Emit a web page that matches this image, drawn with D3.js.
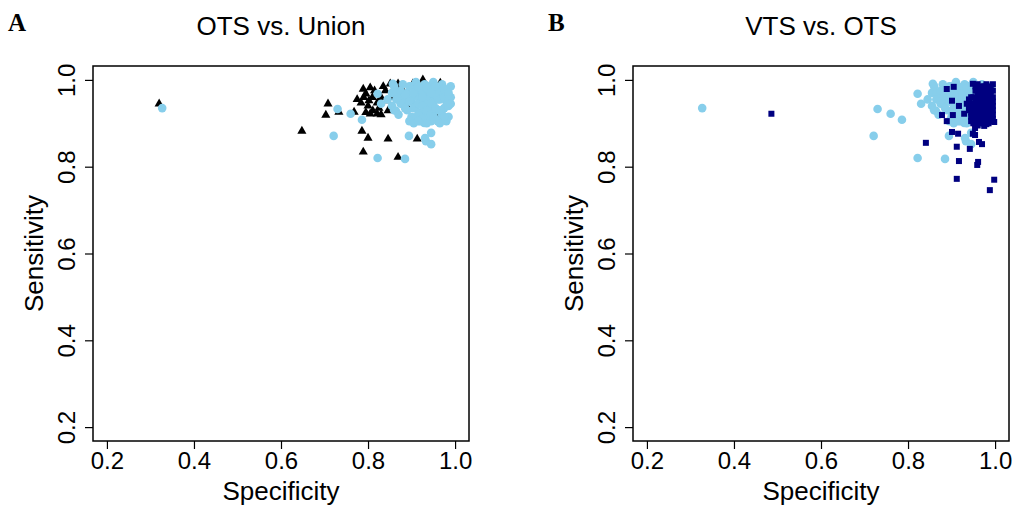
<!DOCTYPE html>
<html>
<head>
<meta charset="utf-8">
<script src="https://cdn.jsdelivr.net/npm/d3@7"></script>
<style>
  body { margin: 0; background: #ffffff; }
  text { font-family: "Liberation Sans", Arial, sans-serif; }
</style>
</head>
<body>
<svg id="chart" width="1015" height="508"></svg>
<script>
// OTS points (sky blue circles), shared by both panels
var otsPoints = [
  [0.327,0.935],[0.730,0.933],[0.760,0.922],[0.786,0.908],[0.721,0.871],[0.822,0.820],
  [0.885,0.818],[0.894,0.871],[0.945,0.878],[0.933,0.859],[0.945,0.852],[0.931,0.866],
  [0.822,0.968],[0.855,0.970],[0.857,0.991],[0.864,0.929],[0.880,0.945],[0.905,0.910],
  [0.929,0.901],[0.83,0.945],[0.845,0.955],[0.855,0.94],[0.865,0.97],
  [0.86,0.985],[0.87,0.96],[0.88,0.99],[0.88,0.95],[0.89,0.97],[0.89,0.93],[0.90,0.985],
  [0.90,0.955],[0.90,0.915],[0.91,0.995],[0.91,0.97],[0.91,0.94],[0.92,0.98],[0.92,0.955],
  [0.92,0.925],[0.92,0.905],[0.93,0.99],[0.93,0.965],[0.93,0.945],[0.93,0.915],[0.94,0.985],
  [0.94,0.96],[0.94,0.935],[0.94,0.91],[0.95,0.995],[0.95,0.975],[0.95,0.95],[0.95,0.925],
  [0.96,0.98],[0.96,0.955],[0.96,0.93],[0.96,0.905],[0.97,0.99],[0.97,0.965],[0.975,0.935],
  [0.97,0.92],[0.98,0.975],[0.98,0.95],[0.985,0.94],[0.99,0.985],[0.99,0.96],[0.86,0.93],
  [0.87,0.92],[0.875,0.945],[0.895,0.905],[0.905,0.90],[0.915,0.96],[0.925,0.975],
  [0.935,0.955],[0.945,0.945],[0.955,0.965],[0.965,0.975],[0.985,0.915],[0.955,0.91],
  [0.965,0.9],[0.98,0.905],
  [0.865,0.955],[0.875,0.975],[0.885,0.965],[0.885,0.935],[0.895,0.985],[0.895,0.95],
  [0.905,0.97],[0.905,0.935],[0.915,0.985],[0.915,0.945],[0.915,0.92],[0.925,0.96],
  [0.925,0.94],[0.925,0.91],[0.935,0.98],[0.935,0.93],[0.945,0.97],[0.945,0.92],
  [0.955,0.985],[0.955,0.935],[0.965,0.955],[0.965,0.93],[0.975,0.98],[0.975,0.96],
  [0.985,0.97],[0.985,0.955],[0.99,0.945],[0.975,0.915],[0.945,0.905],[0.935,0.9],
  [0.915,0.905],[0.95,0.915]
];

// Union points (black triangles), panel A
var unionPoints = [
  [0.320,0.945],[0.648,0.882],[0.708,0.945],[0.703,0.919],[0.733,0.926],[0.768,0.926],
  [0.786,0.882],[0.800,0.866],[0.789,0.834],[0.846,0.864],[0.869,0.822],[0.913,0.864],
  [0.789,0.979],[0.805,0.982],[0.795,0.968],[0.784,0.947],[0.802,0.952],[0.811,0.929],
  [0.821,0.922],[0.805,0.922],[0.821,0.947],[0.844,0.952],[0.846,0.929],[0.851,0.991],
  [0.869,0.991],[0.903,0.991],[0.926,1.000],[0.966,0.993],[0.892,0.935],[0.947,0.929],
  [0.86,0.97],[0.88,0.96],[0.90,0.95],[0.92,0.945],[0.94,0.96],[0.95,0.98],[0.97,0.955],
  [0.93,0.92],[0.96,0.915],[0.88,0.975],[0.83,0.96],[0.815,0.975],[0.835,0.985],[0.775,0.955],
  [0.79,0.96],[0.80,0.94],[0.81,0.96],[0.825,0.935],[0.84,0.975],[0.855,0.96],
  [0.865,0.985],[0.83,0.92],[0.795,0.925]
];

// VTS points (navy squares), panel B
var vtsPoints = [
  [0.486,0.922],[0.889,0.979],[0.905,0.984],[0.949,0.991],[0.901,0.952],[0.917,0.940],
  [0.878,0.919],[0.889,0.905],[0.903,0.919],[0.929,0.922],[0.901,0.880],[0.915,0.876],
  [0.841,0.855],[0.912,0.846],[0.942,0.841],[0.949,0.876],[0.954,0.873],[0.963,0.857],
  [0.970,0.852],[0.917,0.813],[0.961,0.811],[0.959,0.804],[0.912,0.772],[0.998,0.770],
  [0.988,0.746],[0.954,0.889],[0.975,0.894],[0.998,0.903],
  [0.96,0.99],[0.97,0.985],[0.98,0.99],[0.99,0.985],[0.995,0.975],
  [0.955,0.975],[0.965,0.97],[0.975,0.975],[0.985,0.97],[0.995,0.96],
  [0.94,0.955],[0.95,0.96],[0.96,0.955],[0.97,0.96],[0.98,0.955],[0.99,0.95],
  [0.945,0.945],[0.955,0.94],[0.965,0.945],[0.975,0.94],[0.985,0.945],[0.995,0.94],
  [0.94,0.93],[0.95,0.925],[0.96,0.93],[0.97,0.925],[0.98,0.93],[0.99,0.925],
  [0.945,0.915],[0.955,0.91],[0.965,0.915],[0.975,0.91],[0.985,0.915],[0.995,0.91],
  [0.95,0.9],[0.96,0.895],[0.97,0.9],[0.98,0.898],[0.99,0.905],
  [0.935,0.945],[0.94,0.935],[0.975,0.95],[0.965,0.965],[0.955,0.95],[0.985,0.935],
  [0.97,0.935],[0.96,0.92],[0.98,0.92],[0.95,0.935],[0.99,0.965],[0.98,0.965],
  [0.955,0.985],[0.965,0.98],[0.975,0.985],[0.985,0.98],[0.995,0.99],[0.96,0.965],
  [0.97,0.97],[0.98,0.975],[0.99,0.975],[0.945,0.96],[0.955,0.955],[0.965,0.95],
  [0.975,0.955],[0.985,0.96],[0.995,0.95],[0.94,0.945],[0.95,0.945],[0.96,0.94],
  [0.97,0.945],[0.98,0.94],[0.99,0.94],[0.945,0.925],[0.955,0.93],[0.965,0.925],
  [0.975,0.93],[0.985,0.925],[0.995,0.93],[0.95,0.915],[0.96,0.91],[0.97,0.915],
  [0.98,0.91],[0.99,0.915],[0.955,0.9],[0.965,0.905],[0.975,0.9],[0.985,0.9],
  [0.995,0.92],[0.945,0.905]
];

var tickValues = [0.2, 0.4, 0.6, 0.8, 1.0];

var panels = [
  {letter:'A', title:'OTS vs. Union', left:93, series:[
    {data:unionPoints, shape:'triangle', color:'#000000'},
    {data:otsPoints, shape:'circle', color:'#87CEEB'}
  ]},
  {letter:'B', title:'VTS vs. OTS', left:633, series:[
    {data:otsPoints, shape:'circle', color:'#87CEEB'},
    {data:vtsPoints, shape:'square', color:'#000080'}
  ]}
];

var plotW = 376, plotTop = 66, plotBottom = 441;
var svg = d3.select('#chart');
var fmt = d3.format('.1f');
var triangle = d3.symbol(d3.symbolTriangle).size(36);

panels.forEach(function(p){
  var x = d3.scaleLinear().domain([0.168, 1.032]).range([p.left, p.left + plotW]);
  var y = d3.scaleLinear().domain([0.168, 1.032]).range([plotBottom, plotTop]);
  var g = svg.append('g');

  // axes
  var xa = g.append('g').attr('transform','translate(0,' + plotBottom + ')')
    .call(d3.axisBottom(x).tickValues(tickValues).tickFormat(fmt).tickSize(8).tickSizeOuter(0));
  xa.select('.domain').remove();
  xa.selectAll('line').attr('stroke','#000').attr('stroke-width',1.2);
  xa.selectAll('text').attr('y',28).attr('dy',0)
    .style('font-size','24px').attr('fill','#000');

  var ya = g.append('g').attr('transform','translate(' + p.left + ',0)')
    .call(d3.axisLeft(y).tickValues(tickValues).tickFormat(fmt).tickSize(8).tickSizeOuter(0));
  ya.select('.domain').remove();
  ya.selectAll('line').attr('stroke','#000').attr('stroke-width',1.2);
  ya.selectAll('text').attr('x',0).attr('y',-18).attr('dy',0)
    .attr('transform','rotate(-90)').style('text-anchor','middle')
    .style('font-size','24px').attr('fill','#000');

  // points
  p.series.forEach(function(s){
    var sel = g.append('g').selectAll('.pt').data(s.data).enter();
    if(s.shape === 'circle'){
      sel.append('circle')
        .attr('cx',(d)=>x(d[0])).attr('cy',(d)=>y(d[1]))
        .attr('r',4.3).attr('fill',s.color);
    } else if(s.shape === 'square'){
      sel.append('rect')
        .attr('x',(d)=>x(d[0]) - 3).attr('y',(d)=>y(d[1]) - 3)
        .attr('width',6).attr('height',6).attr('fill',s.color);
    } else {
      sel.append('path').attr('d',triangle)
        .attr('transform',(d)=>'translate(' + x(d[0]) + ',' + y(d[1]) + ')')
        .attr('fill',s.color);
    }
  });

  // box
  g.append('rect')
    .attr('x',p.left).attr('y',plotTop)
    .attr('width',plotW).attr('height',plotBottom - plotTop)
    .attr('fill','none').attr('stroke','#000').attr('stroke-width',1.5);

  // labels
  g.append('text').text(p.title)
    .attr('x',p.left + plotW/2).attr('y',35)
    .style('text-anchor','middle').style('font-size','26px');
  g.append('text').text('Specificity')
    .attr('x',p.left + plotW/2).attr('y',500)
    .style('text-anchor','middle').style('font-size','26px');
  g.append('text').text('Sensitivity')
    .attr('transform','translate(' + (p.left - 50) + ',' + (plotTop + plotBottom)/2 + ') rotate(-90)')
    .style('text-anchor','middle').style('font-size','26px');
  g.append('text').text(p.letter)
    .attr('x',p.left - 85).attr('y',31)
    .style('font-family','"Liberation Serif", "Times New Roman", serif')
    .style('font-weight','bold').style('font-size','25px');
});
</script>
</body>
</html>
